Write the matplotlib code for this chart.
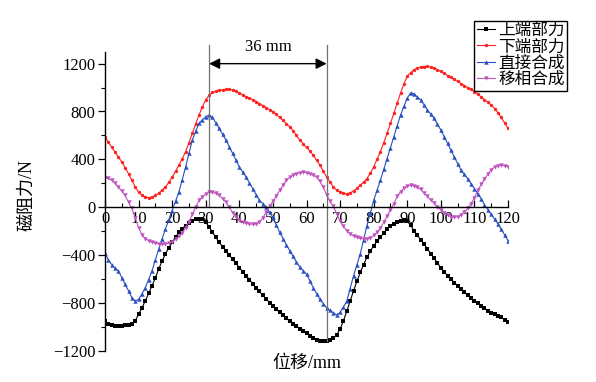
import numpy as np
import matplotlib
matplotlib.use("Agg")
import matplotlib.pyplot as plt
from matplotlib.ticker import MultipleLocator

plt.rcParams['font.family'] = ['Liberation Serif', 'Noto Sans CJK SC']
plt.rcParams['mathtext.fontset'] = 'stix'

x_mm = np.arange(0, 121, 1)

upper_force = [-955, -975, -985, -990, -992, -990, -988, -985, -975, -950,
               -895, -840, -785, -720, -658, -590, -516, -450, -390, -340,
               -294, -250, -210, -180, -154, -130, -112, -102, -98, -100,
               -126, -165, -210, -252, -294, -330, -364, -400, -436, -470,
               -505, -540, -572, -605, -640, -673, -705, -737, -768, -798,
               -827, -853, -878, -905, -930, -953, -975, -995, -1015, -1035,
               -1055, -1075, -1095, -1108, -1115, -1118, -1118, -1110, -1095, -1065,
               -1020, -950, -869, -785, -700, -620, -546, -480, -420, -368,
               -322, -285, -252, -215, -182, -160, -140, -125, -112, -105,
               -118, -150, -196, -235, -272, -308, -348, -388, -428, -467,
               -505, -540, -572, -600, -630, -658, -685, -712, -738, -762,
               -785, -805, -825, -845, -865, -883, -895, -908, -922, -940,
               -959]

lower_force = [589, 545, 500, 460, 418, 378, 330, 280, 225, 170,
               126, 100, 84, 79, 84, 98, 118, 142, 168, 208,
               252, 300, 351, 405, 463, 540, 617, 695, 771, 840,
               897, 935, 959, 970, 978, 981, 985, 987, 980, 968,
               954, 940, 925, 912, 898, 883, 866, 850, 833, 816,
               799, 775, 750, 725, 699, 673, 640, 600, 561, 530,
               500, 470, 435, 393, 351, 300, 252, 210, 168, 142,
               126, 116, 113, 120, 135, 158, 183, 210, 239, 285,
               336, 400, 463, 540, 617, 700, 785, 870, 954, 1030,
               1093, 1125, 1150, 1163, 1172, 1176, 1177, 1172, 1164, 1150,
               1135, 1118, 1101, 1085, 1068, 1051, 1034, 1017, 1000, 984,
               967, 945, 922, 900, 878, 855, 825, 790, 750, 705,
               659]

direct_sum = [-384, -440, -480, -510, -532, -590, -644, -700, -757, -785,
              -771, -725, -673, -605, -532, -440, -350, -265, -182, -105,
              -28, 50, 126, 230, 336, 450, 561, 635, 701, 730,
              757, 771, 752, 705, 659, 610, 561, 505, 449, 392,
              336, 294, 252, 203, 155, 105, 56, 30, 0, -42,
              -84, -147, -210, -262, -314, -364, -411, -458, -500, -530,
              -560, -615, -673, -722, -771, -806, -841, -862, -883, -900,
              -880, -835, -785, -680, -574, -483, -392, -273, -154, -50,
              56, 140, 225, 316, 407, 498, 589, 680, 771, 842,
              912, 955, 948, 922, 897, 855, 813, 778, 743, 694,
              645, 589, 533, 476, 420, 365, 309, 274, 239, 197,
              155, 113, 71, 20, -20, -60, -100, -140, -185, -232,
              -280]

phase_sum = [247, 240, 225, 200, 168, 135, 98, 40, -10, -90,
             -170, -230, -262, -280, -292, -300, -306, -308, -308, -300,
             -290, -270, -245, -215, -170, -120, -60, 0, 56, 88,
             113, 124, 126, 115, 98, 72, 42, 0, -45, -85,
             -110, -125, -135, -140, -142, -140, -125, -88, -40, 10,
             50, 95, 140, 185, 225, 250, 267, 280, 289, 292,
             288, 281, 268, 252, 215, 168, 100, 50, 10, -55,
             -115, -160, -198, -222, -240, -252, -260, -265, -265, -255,
             -236, -210, -175, -125, -75, -20, 30, 90, 130, 160,
             176, 183, 178, 165, 148, 118, 90, 60, 35, 0,
             -20, -45, -65, -80, -85, -80, -65, -40, -10, 30,
             80, 140, 190, 235, 275, 315, 335, 348, 352, 345,
             340]

labels = ['上端部力', '下端部力', '直接合成', '移相合成']
xticks = list(range(0, 121, 10))
yticks = [-1200, -800, -400, 0, 400, 800, 1200]
span_start, span_end = 31, 66
span_label = '36 mm'

fig = plt.figure(figsize=(5.96, 3.82), dpi=100)
ax = fig.add_axes([105/596, 1 - 350.7/382, (508 - 105)/596, (350.7 - 51.7)/382])

ax.plot(x_mm, upper_force, color='black', lw=0.8, marker='s', ms=2.2, mew=0, label=labels[0])
ax.plot(x_mm, lower_force, color='#ff2020', lw=0.8, marker='o', ms=2.4, mew=0, label=labels[1])
ax.plot(x_mm, direct_sum, color='#2a50c0', lw=0.8, marker='^', ms=3.2, mew=0, label=labels[2])
ax.plot(x_mm, phase_sum, color='#c054c0', lw=0.8, marker='v', ms=3.2, mew=0, label=labels[3])

ax.set_xlim(0, 120)
ax.set_ylim(-1200, 1300)

ax.spines['top'].set_visible(False)
ax.spines['right'].set_visible(False)
ax.spines['bottom'].set_position(('data', 0))
for s in ('left', 'bottom'):
    ax.spines[s].set_linewidth(1.0)

ax.set_xticks(xticks)
ax.set_yticks(yticks)
ax.xaxis.set_minor_locator(MultipleLocator(5))
ax.yaxis.set_minor_locator(MultipleLocator(200))
ax.tick_params(axis='x', which='major', direction='in', length=5, width=0.9, labelsize=12, pad=3)
ax.tick_params(axis='x', which='minor', direction='in', length=3, width=0.8)
ax.tick_params(axis='y', which='major', direction='out', length=5, width=0.9, labelsize=12, pad=2)
ax.tick_params(axis='y', which='minor', direction='out', length=3, width=0.8)
ax.set_yticklabels(['\u22121200', '\u2212800', '\u2212400', '0', '400', '800', '1200'])

ax.set_ylabel('磁阻力/N', fontsize=13)
ax.yaxis.set_label_coords(-0.172, 0.52)
ax.set_xlabel('位移/mm', fontsize=13)
ax.xaxis.set_label_coords(0.5, -0.015)

# vertical markers and dimension arrow
upper_arr = np.array(upper_force)
ax.plot([span_start, span_start], [0, 1360], color='#707070', lw=0.9, clip_on=False)
ax.plot([span_end, span_end], [upper_arr[span_end], 1360], color='#707070', lw=0.9, clip_on=False)
ax.annotate('', xy=(span_start, 1200), xytext=(span_end, 1200),
            arrowprops=dict(arrowstyle='<|-|>', color='black', lw=1.0,
                            mutation_scale=16, shrinkA=0, shrinkB=0))
ax.text((span_start + span_end) / 2, 1272, span_label, ha='center', va='bottom', fontsize=12)

leg = ax.legend(loc='upper left', bbox_to_anchor=(474/596, 1 - 20.5/382), bbox_transform=fig.transFigure,
                fontsize=12, frameon=True, fancybox=False, edgecolor='black', framealpha=1,
                handlelength=1.1, handletextpad=0.2, labelspacing=0.02, borderpad=0.15,
                borderaxespad=0)
leg.get_frame().set_linewidth(1.0)

fig.savefig('out.png', dpi=100)
